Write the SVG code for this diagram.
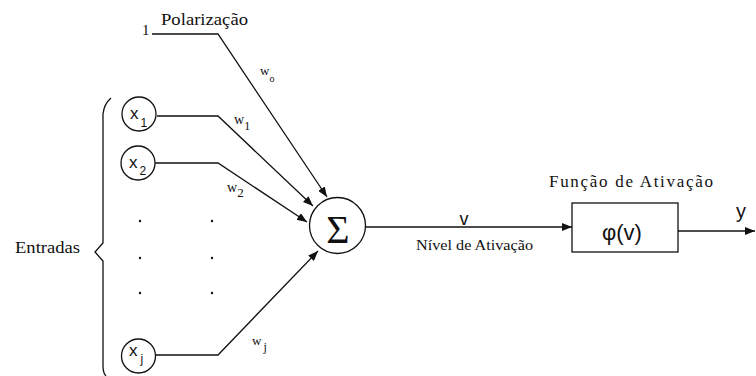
<svg xmlns="http://www.w3.org/2000/svg" width="756" height="376" viewBox="0 0 756 376">
<style>
.ln{fill:none;stroke:#111;stroke-width:1.3}
.nd{fill:#fff;stroke:#111;stroke-width:1.3}
.sf{font-family:"Liberation Serif","Times New Roman",serif;fill:#111}
.ss{font-family:"Liberation Sans",Arial,sans-serif;fill:#111}
.dot{fill:#111}
</style>
<defs>
<marker id="ah" viewBox="0 0 10 8" refX="10" refY="4" markerWidth="10" markerHeight="8" markerUnits="userSpaceOnUse" orient="auto">
<path d="M0,0 L10,4 L0,8 Z" fill="#111"/>
</marker>
</defs>
<rect width="756" height="376" fill="#fff"/>

<g id="connectors">
<polyline class="ln" points="152,34 218,34 327,197" marker-end="url(#ah)"/>
<polyline class="ln" points="157,116 218,116 313,206" marker-end="url(#ah)"/>
<polyline class="ln" points="155,163 218,163 307,222" marker-end="url(#ah)"/>
<polyline class="ln" points="156,355 218,355 318,251" marker-end="url(#ah)"/>
<line class="ln" x1="366" y1="227" x2="572" y2="227" marker-end="url(#ah)"/>
<line class="ln" x1="678" y1="231" x2="755" y2="231" marker-end="url(#ah)"/>
</g>

<g id="bias">
<text class="sf" x="142" y="35" font-size="15">1</text>
<text class="sf" x="161" y="25" font-size="17" textLength="87" lengthAdjust="spacingAndGlyphs">Polarização</text>
</g>

<g id="weights">
<text class="sf" x="260" y="75" font-size="13">w<tspan font-size="10" dy="7">o</tspan></text>
<text class="sf" x="234" y="124" font-size="14">w<tspan font-size="12" dy="6">1</tspan></text>
<text class="sf" x="227" y="192" font-size="14">w<tspan font-size="13" dy="5">2</tspan></text>
<text class="sf" x="252" y="345" font-size="13">w<tspan font-size="12" dy="6" dx="2">j</tspan></text>
</g>

<g id="x1">
<circle class="nd" cx="139" cy="114" r="17"/>
<text class="ss" x="130" y="119" font-size="17">x<tspan font-size="12" dy="8" dx="2">1</tspan></text>
</g>
<g id="x2">
<circle class="nd" cx="138" cy="163" r="17"/>
<text class="ss" x="129" y="168" font-size="17">x<tspan font-size="12" dy="7" dx="2">2</tspan></text>
</g>
<g id="xj">
<circle class="nd" cx="138.5" cy="356" r="17"/>
<text class="ss" x="129" y="356" font-size="17">x<tspan font-size="12" dy="7" dx="3">j</tspan></text>
</g>

<g id="ellipsis">
<circle class="dot" cx="140" cy="221" r="1.2"/>
<circle class="dot" cx="212" cy="221" r="1.2"/>
<circle class="dot" cx="140" cy="258" r="1.2"/>
<circle class="dot" cx="212" cy="258" r="1.2"/>
<circle class="dot" cx="140" cy="293" r="1.2"/>
<circle class="dot" cx="212" cy="293" r="1.2"/>
</g>

<g id="inputs-brace">
<path class="ln" d="M111,98 Q104,104 103,114 L103,243 L95,252 L103,261 L103,366 Q103,373 106,376"/>
<text class="sf" x="15" y="253" font-size="17" textLength="65" lengthAdjust="spacingAndGlyphs">Entradas</text>
</g>

<g id="sum">
<circle class="nd" cx="337.5" cy="225.5" r="28"/>
<text class="sf" x="338" y="243" font-size="40" text-anchor="middle">Σ</text>
</g>

<g id="activation-level">
<text class="ss" x="464" y="225" font-size="18" text-anchor="middle">v</text>
<text class="sf" x="416" y="250" font-size="15" textLength="117" lengthAdjust="spacingAndGlyphs">Nível de Ativação</text>
</g>

<g id="activation-function">
<text class="sf" x="549" y="187" font-size="17" textLength="164" lengthAdjust="spacing">Função de Ativação</text>
<rect class="nd" x="572" y="203" width="106" height="49"/>
<text class="ss" x="622" y="240" font-size="22" text-anchor="middle">φ(v)</text>
</g>

<g id="output">
<text class="ss" x="741" y="218" font-size="20" text-anchor="middle">y</text>
</g>
</svg>
